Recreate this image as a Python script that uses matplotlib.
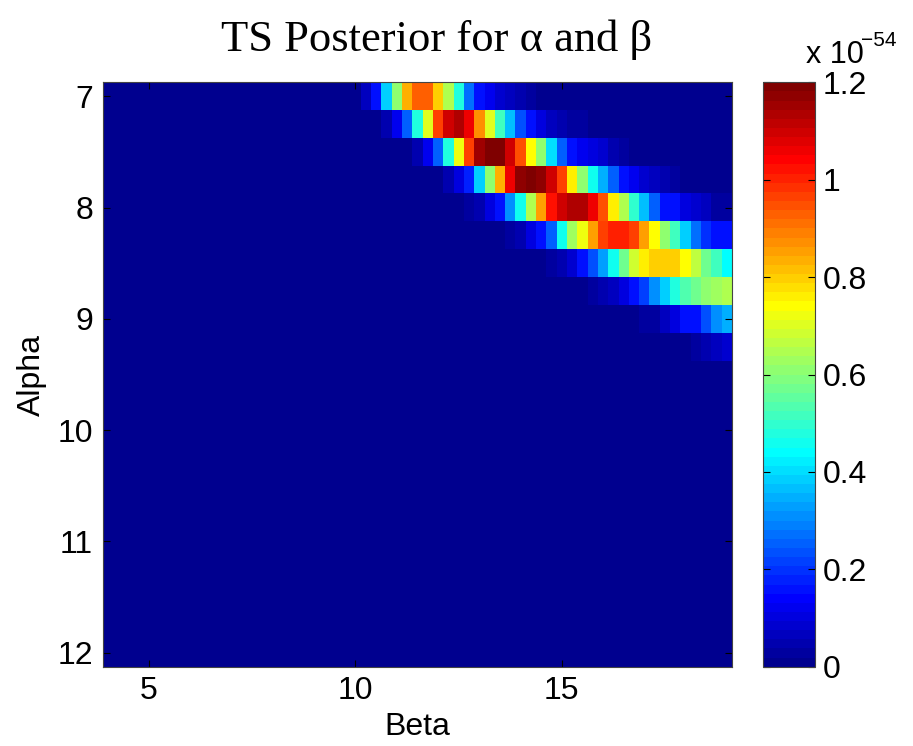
import numpy as np
import matplotlib
matplotlib.use("Agg")
import matplotlib.pyplot as plt
from matplotlib.colors import ListedColormap

# ---- data (values in units of 1e-54) ----
beta_values = np.arange(4.0, 19.0 + 1e-9, 0.25)     # 61 columns
alpha_values = np.arange(7.0, 12.0 + 1e-9, 0.25)    # 21 rows

# each posterior row: (alpha, first beta, values along beta)
row_7_00 = (7.00, 9.75, [0.005, 0.015, 0.07, 0.15, 0.38, 0.60, 0.83, 0.92, 0.92, 0.79,
                         0.64, 0.48, 0.28, 0.15, 0.13, 0.09, 0.06, 0.04, 0.02, 0.01])
row_7_25 = (7.25, 10.50, [0.01, 0.04, 0.12, 0.25, 0.48, 0.71, 0.96, 1.09, 1.125, 1.05,
                          0.88, 0.70, 0.52, 0.36, 0.24, 0.15, 0.10, 0.07, 0.05, 0.03, 0.02])
row_7_50 = (7.50, 11.25, [0.01, 0.04, 0.13, 0.26, 0.48, 0.73, 0.96, 1.16, 1.20, 1.19,
                          1.09, 0.94, 0.74, 0.60, 0.40, 0.26, 0.16, 0.13, 0.10, 0.08,
                          0.05, 0.03, 0.015])
row_7_75 = (7.75, 12.00, [0.01, 0.04, 0.10, 0.17, 0.38, 0.60, 0.84, 1.05, 1.18, 1.20,
                          1.18, 1.09, 0.96, 0.75, 0.60, 0.46, 0.35, 0.25, 0.16, 0.12,
                          0.09, 0.06, 0.04, 0.02, 0.01])
row_8_00 = (8.00, 12.75, [0.02, 0.04, 0.10, 0.15, 0.30, 0.45, 0.64, 0.86, 1.03, 1.09,
                          1.14, 1.125, 1.05, 0.94, 0.75, 0.64, 0.50, 0.36, 0.25, 0.16,
                          0.15, 0.11, 0.09, 0.06, 0.03, 0.03])
row_8_25 = (8.25, 13.50, [0.01, 0.02, 0.05, 0.11, 0.16, 0.26, 0.45, 0.62, 0.72, 0.86,
                          0.96, 1.00, 1.00, 0.96, 0.85, 0.74, 0.60, 0.52, 0.39, 0.28,
                          0.20, 0.15, 0.15])
row_8_50 = (8.50, 14.50, [0.01, 0.02, 0.04, 0.08, 0.15, 0.23, 0.33, 0.45, 0.58, 0.69,
                          0.75, 0.80, 0.80, 0.80, 0.74, 0.67, 0.58, 0.52, 0.44])
row_8_75 = (8.75, 15.50, [0.01, 0.02, 0.04, 0.07, 0.11, 0.15, 0.21, 0.30, 0.38, 0.47,
                          0.54, 0.58, 0.60, 0.62, 0.64])
row_9_00 = (9.00, 16.75, [0.01, 0.02, 0.03, 0.06, 0.10, 0.15, 0.16, 0.23, 0.30, 0.35])
row_9_25 = (9.25, 18.00, [0.01, 0.02, 0.04, 0.06, 0.09])

posterior_rows = [row_7_00, row_7_25, row_7_50, row_7_75, row_8_00,
                  row_8_25, row_8_50, row_8_75, row_9_00, row_9_25]

x_ticks = [5, 10, 15]
y_ticks = [7, 8, 9, 10, 11, 12]
cbar_ticks = [0, 0.2, 0.4, 0.6, 0.8, 1.0, 1.2]
cbar_ticklabels = ["0", "0.2", "0.4", "0.6", "0.8", "1", "1.2"]

# ---- grid ----
Z = np.zeros((len(alpha_values), len(beta_values)))
for a, b0, vals in posterior_rows:
    i = int(np.argmin(np.abs(alpha_values - a)))
    j = int(np.argmin(np.abs(beta_values - b0)))
    Z[i, j:j + len(vals)] = vals

# MATLAB-style jet(64)
x = np.arange(1, 65) / 64.0
r = np.clip(1.5 - np.abs(4 * x - 3), 0, 1)
g = np.clip(1.5 - np.abs(4 * x - 2), 0, 1)
b = np.clip(1.5 - np.abs(4 * x - 1), 0, 1)
jet64 = ListedColormap(np.column_stack([r, g, b]))

plt.rcParams["font.family"] = ["Liberation Sans", "DejaVu Sans"]

W, H = 913, 746
fig = plt.figure(figsize=(W / 100, H / 100), dpi=100)
ax = fig.add_axes([102.7 / W, 1 - 666.7 / H, 629.0 / W, 584.4 / H])

db = (beta_values[1] - beta_values[0]) / 2
da = (alpha_values[1] - alpha_values[0]) / 2
im = ax.imshow(Z, cmap=jet64, vmin=0, vmax=1.2, aspect="auto", interpolation="nearest",
               extent=[beta_values[0] - db, beta_values[-1] + db,
                       alpha_values[-1] + da, alpha_values[0] - da])

ax.set_xticks(x_ticks)
ax.set_yticks(y_ticks)
ax.tick_params(direction="in", length=5, width=0.8, top=True, right=True,
               labelsize=23, pad=7, colors="black")
for s in ax.spines.values():
    s.set_linewidth(0.8)
    s.set_color("#444444")

ax.set_xlabel("Beta", fontsize=23)
ax.xaxis.set_label_coords(0.5, -0.078)
ax.set_ylabel("Alpha", fontsize=23)
ax.yaxis.set_label_coords(-0.088, 0.5)

cax = fig.add_axes([762.7 / W, 1 - 666.7 / H, 52.0 / W, 584.4 / H])
cb = fig.colorbar(im, cax=cax, ticks=cbar_ticks)
cb.set_ticklabels(cbar_ticklabels)
cax.tick_params(direction="in", length=5, width=0.8, left=True, right=True,
                labelsize=23, pad=6)
cb.outline.set_linewidth(0.8)
cb.outline.set_edgecolor("#444444")

fig.text(437 / W, 1 - 51 / H, "TS Posterior for \u03b1 and \u03b2",
         family=["Liberation Serif", "DejaVu Serif"], fontsize=32,
         ha="center", va="baseline")
fig.text(806 / W, 1 - 63 / H, "x 10", fontsize=22, ha="left", va="baseline")
fig.text(861 / W, 1 - 46 / H, "\u221254", fontsize=15, ha="left", va="baseline")

fig.savefig("out.png", dpi=100)
